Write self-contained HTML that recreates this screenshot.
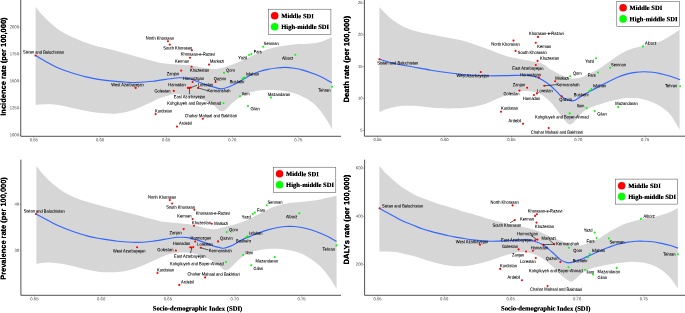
<!DOCTYPE html>
<html lang="en"><head><meta charset="utf-8"><title>SDI scatter plots</title>
<style>
html,body{margin:0;padding:0;background:#fff;}
body{width:685px;height:313px;overflow:hidden;}
svg{display:block;}
text{text-rendering:geometricPrecision;}
.lab{font-family:"Liberation Sans",Arial,sans-serif;font-size:4.6px;fill:#000;stroke:#000;stroke-width:0.0;}
.tick{font-family:"Liberation Sans",Arial,sans-serif;font-size:4.2px;fill:#606060;stroke:#606060;stroke-width:0.0;}
.ytitle{font-family:"Liberation Sans",Arial,sans-serif;font-weight:bold;font-size:7.5px;fill:#000;stroke:#000;stroke-width:0.12;}
.xtitle{font-family:"Liberation Serif","Times New Roman",serif;font-weight:bold;font-size:6.63px;fill:#000;stroke:#000;stroke-width:0.08;}
.leg{font-family:"Liberation Serif","Times New Roman",serif;font-weight:bold;font-size:6.57px;fill:#000;stroke:#000;stroke-width:0.08;}
</style></head><body>
<svg width="685" height="313" viewBox="0 0 685 313">
<defs><filter id="tb" x="-5%" y="-5%" width="110%" height="110%" color-interpolation-filters="sRGB"><feGaussianBlur stdDeviation="0.2"/><feComponentTransfer><feFuncA type="linear" slope="1.25" intercept="0"/></feComponentTransfer></filter></defs>
<defs><filter id="ab" x="-5%" y="-5%" width="110%" height="110%"><feGaussianBlur stdDeviation="0.2"/></filter></defs>
<defs><filter id="b" x="-5%" y="-5%" width="110%" height="110%"><feGaussianBlur stdDeviation="0.4"/></filter></defs>
<rect x="0" y="0" width="685" height="313" fill="#fff"/>
<g filter="url(#b)">
<g transform="translate(0 0)">
<path d="M35.60 7.00 C36.17 7.70 37.83 9.83 39.00 11.20 C40.17 12.57 40.97 13.47 42.60 15.20 C44.23 16.93 46.72 19.63 48.80 21.60 C50.88 23.57 53.00 25.35 55.10 27.00 C57.20 28.65 59.30 30.17 61.40 31.50 C63.50 32.83 65.62 33.95 67.70 35.00 C69.78 36.05 71.42 36.70 73.90 37.80 C76.38 38.90 79.07 40.28 82.60 41.60 C86.13 42.92 90.92 44.50 95.10 45.70 C99.28 46.90 103.52 47.75 107.70 48.80 C111.88 49.85 116.02 50.88 120.20 52.00 C124.38 53.12 128.62 54.35 132.80 55.50 C136.98 56.65 141.77 57.95 145.30 58.90 C148.83 59.85 151.30 60.52 154.00 61.20 C156.70 61.88 158.78 62.55 161.50 63.00 C164.22 63.45 165.90 63.55 170.30 63.90 C174.70 64.25 183.50 64.65 187.90 65.10 C192.30 65.55 193.78 66.10 196.70 66.60 C199.62 67.10 202.48 67.70 205.40 68.10 C208.32 68.50 211.13 69.12 214.20 69.00 C217.27 68.88 220.73 68.13 223.80 67.40 C226.87 66.67 229.67 65.70 232.60 64.60 C235.53 63.50 238.48 62.12 241.40 60.80 C244.32 59.48 247.18 58.03 250.10 56.70 C253.02 55.37 255.97 54.03 258.90 52.80 C261.83 51.57 264.77 50.27 267.70 49.30 C270.63 48.33 273.57 47.63 276.50 47.00 C279.43 46.37 282.37 45.93 285.30 45.50 C288.23 45.07 291.17 44.63 294.10 44.40 C297.03 44.17 299.97 44.25 302.90 44.10 C305.83 43.95 308.78 43.85 311.70 43.50 C314.62 43.15 317.48 42.85 320.40 42.00 C323.32 41.15 327.28 39.23 329.20 38.40 C331.12 37.57 331.45 37.23 331.90 37.00 L331.90 129.60 C331.45 128.65 331.12 127.03 329.20 123.90 C327.28 120.77 323.32 114.45 320.40 110.80 C317.48 107.15 314.62 104.35 311.70 102.00 C308.78 99.65 305.83 98.17 302.90 96.70 C299.97 95.23 297.03 94.13 294.10 93.20 C291.17 92.27 288.23 91.60 285.30 91.10 C282.37 90.60 279.43 90.38 276.50 90.20 C273.57 90.02 270.62 89.95 267.70 90.00 C264.78 90.05 261.93 90.12 259.00 90.50 C256.07 90.88 253.03 91.35 250.10 92.30 C247.17 93.25 244.32 94.45 241.40 96.20 C238.48 97.95 235.00 100.73 232.60 102.80 C230.20 104.87 228.35 107.30 227.00 108.60 C225.65 109.90 225.28 110.15 224.50 110.60 C223.72 111.05 223.00 111.25 222.30 111.30 C221.60 111.35 221.02 111.22 220.30 110.90 C219.58 110.58 219.02 110.25 218.00 109.40 C216.98 108.55 216.30 107.25 214.20 105.80 C212.10 104.35 208.32 102.07 205.40 100.70 C202.48 99.33 199.62 98.47 196.70 97.60 C193.78 96.73 190.83 96.03 187.90 95.50 C184.97 94.97 182.03 94.50 179.10 94.40 C176.17 94.30 173.23 94.37 170.30 94.90 C167.37 95.43 164.43 96.52 161.50 97.60 C158.57 98.68 155.63 100.08 152.70 101.40 C149.77 102.72 146.83 104.18 143.90 105.50 C140.97 106.82 138.02 108.22 135.10 109.30 C132.18 110.38 129.32 111.32 126.40 112.00 C123.48 112.68 120.53 113.13 117.60 113.40 C114.67 113.67 111.68 113.67 108.80 113.60 C105.92 113.53 103.10 113.27 100.30 113.00 C97.50 112.73 94.68 112.40 92.00 112.00 C89.32 111.60 86.87 111.13 84.20 110.60 C81.53 110.07 78.67 109.40 76.00 108.80 C73.33 108.20 70.87 107.58 68.20 107.00 C65.53 106.42 62.68 105.75 60.00 105.30 C57.32 104.85 54.77 104.47 52.10 104.30 C49.43 104.13 46.75 104.18 44.00 104.30 C41.25 104.42 37.00 104.88 35.60 105.00 Z" fill="#d6d6d6"/>
<path d="M35.70 55.50 C36.50 56.00 38.77 57.45 40.50 58.50 C42.23 59.55 43.85 60.57 46.10 61.80 C48.35 63.03 51.33 64.62 54.00 65.90 C56.67 67.18 59.43 68.43 62.10 69.50 C64.77 70.57 67.32 71.42 70.00 72.30 C72.68 73.18 75.53 74.03 78.20 74.80 C80.87 75.57 83.33 76.27 86.00 76.90 C88.67 77.53 91.53 78.10 94.20 78.60 C96.87 79.10 99.32 79.52 102.00 79.90 C104.68 80.28 107.63 80.62 110.30 80.90 C112.97 81.18 115.32 81.38 118.00 81.60 C120.68 81.82 123.55 82.05 126.40 82.20 C129.25 82.35 130.72 82.65 135.10 82.50 C139.48 82.35 146.83 81.93 152.70 81.30 C158.57 80.67 165.90 79.28 170.30 78.70 C174.70 78.12 176.17 77.87 179.10 77.80 C182.03 77.73 184.97 77.72 187.90 78.30 C190.83 78.88 193.78 80.27 196.70 81.30 C199.62 82.33 202.35 83.48 205.40 84.50 C208.45 85.52 212.23 86.68 215.00 87.40 C217.77 88.12 219.07 89.17 222.00 88.80 C224.93 88.43 229.37 86.58 232.60 85.20 C235.83 83.82 238.48 82.15 241.40 80.50 C244.32 78.85 247.18 76.75 250.10 75.30 C253.02 73.85 255.97 72.78 258.90 71.80 C261.83 70.82 264.77 70.03 267.70 69.40 C270.63 68.77 273.57 68.33 276.50 68.00 C279.43 67.67 282.37 67.35 285.30 67.40 C288.23 67.45 291.17 67.85 294.10 68.30 C297.03 68.75 299.97 69.30 302.90 70.10 C305.83 70.90 308.78 72.02 311.70 73.10 C314.62 74.18 317.03 75.00 320.40 76.60 C323.77 78.20 329.98 81.68 331.90 82.70" fill="none" stroke="#3366ff" stroke-width="1.15" stroke-linecap="butt"/>
<circle cx="35.5" cy="55.5" r="1.05" fill="#ff0000"/>
<circle cx="168.0" cy="41.2" r="1.05" fill="#ff0000"/>
<circle cx="169.8" cy="44.6" r="1.05" fill="#ff0000"/>
<circle cx="191.9" cy="50.2" r="1.05" fill="#ff0000"/>
<circle cx="190.0" cy="57.8" r="1.05" fill="#ff0000"/>
<circle cx="209.0" cy="64.6" r="1.05" fill="#ff0000"/>
<circle cx="191.6" cy="66.7" r="1.05" fill="#ff0000"/>
<circle cx="181.2" cy="70.6" r="1.05" fill="#ff0000"/>
<circle cx="192.6" cy="82.0" r="1.05" fill="#ff0000"/>
<circle cx="215.5" cy="82.0" r="1.05" fill="#ff0000"/>
<circle cx="135.7" cy="87.9" r="1.05" fill="#ff0000"/>
<circle cx="187.9" cy="87.9" r="1.05" fill="#ff0000"/>
<circle cx="189.2" cy="87.9" r="1.05" fill="#ff0000"/>
<circle cx="190.8" cy="87.6" r="1.05" fill="#ff0000"/>
<circle cx="198.1" cy="87.9" r="1.05" fill="#ff0000"/>
<circle cx="173.8" cy="90.9" r="1.05" fill="#ff0000"/>
<circle cx="223.4" cy="103.3" r="1.05" fill="#00ff00"/>
<circle cx="155.7" cy="114.1" r="1.05" fill="#ff0000"/>
<circle cx="202.8" cy="118.8" r="1.05" fill="#ff0000"/>
<circle cx="177.0" cy="126.6" r="1.05" fill="#ff0000"/>
<circle cx="263.2" cy="46.7" r="1.05" fill="#00ff00"/>
<circle cx="251.4" cy="54.1" r="1.05" fill="#00ff00"/>
<circle cx="249.1" cy="55.0" r="1.05" fill="#00ff00"/>
<circle cx="295.3" cy="54.8" r="1.05" fill="#00ff00"/>
<circle cx="224.0" cy="72.7" r="1.05" fill="#00ff00"/>
<circle cx="244.2" cy="77.5" r="1.05" fill="#00ff00"/>
<circle cx="242.6" cy="78.6" r="1.05" fill="#00ff00"/>
<circle cx="332.0" cy="86.7" r="1.05" fill="#00ff00"/>
<circle cx="240.0" cy="96.2" r="1.05" fill="#00ff00"/>
<circle cx="271.0" cy="97.6" r="1.05" fill="#00ff00"/>
<circle cx="248.0" cy="106.0" r="1.05" fill="#00ff00"/>
<rect x="268.4" y="9.2" width="62.5" height="25.2" fill="#fff" stroke="#444" stroke-width="0.5"/>
<circle cx="274.7" cy="15.799999999999999" r="3.8" fill="#ff0000"/>
<circle cx="274.7" cy="26.7" r="3.8" fill="#00ff00"/>
</g>
<g transform="translate(0 0)">
<path d="M379.40 7.00 C379.83 7.48 381.10 8.93 382.00 9.90 C382.90 10.87 383.80 11.80 384.80 12.80 C385.80 13.80 386.93 14.92 388.00 15.90 C389.07 16.88 390.03 17.75 391.20 18.70 C392.37 19.65 393.67 20.67 395.00 21.60 C396.33 22.53 397.87 23.50 399.20 24.30 C400.53 25.10 401.67 25.75 403.00 26.40 C404.33 27.05 405.15 27.43 407.20 28.20 C409.25 28.97 412.62 30.20 415.30 31.00 C417.98 31.80 420.68 32.40 423.30 33.00 C425.92 33.60 428.27 34.07 431.00 34.60 C433.73 35.13 436.80 35.67 439.70 36.20 C442.60 36.73 445.48 37.25 448.40 37.80 C451.32 38.35 454.77 39.00 457.20 39.50 C459.63 40.00 460.43 40.10 463.00 40.80 C465.57 41.50 468.08 42.18 472.60 43.70 C477.12 45.22 485.72 48.28 490.10 49.90 C494.48 51.52 495.97 52.32 498.90 53.40 C501.83 54.48 504.77 55.58 507.70 56.40 C510.63 57.22 513.57 57.68 516.50 58.30 C519.43 58.92 522.37 59.53 525.30 60.10 C528.23 60.67 531.17 61.07 534.10 61.70 C537.03 62.33 539.97 62.50 542.90 63.90 C545.83 65.30 548.78 68.32 551.70 70.10 C554.62 71.88 557.48 73.30 560.40 74.60 C563.32 75.90 566.77 77.25 569.20 77.90 C571.63 78.55 572.77 78.65 575.00 78.50 C577.23 78.35 580.47 77.75 582.60 77.00 C584.73 76.25 586.33 74.75 587.80 74.00 C589.27 73.25 589.35 73.45 591.40 72.50 C593.45 71.55 597.18 70.08 600.10 68.30 C603.02 66.52 605.97 63.90 608.90 61.80 C611.83 59.70 614.77 57.53 617.70 55.70 C620.63 53.87 623.57 52.12 626.50 50.80 C629.43 49.48 632.37 48.63 635.30 47.80 C638.23 46.97 641.17 46.48 644.10 45.80 C647.03 45.12 649.97 44.55 652.90 43.70 C655.83 42.85 658.78 42.02 661.70 40.70 C664.62 39.38 667.42 37.63 670.40 35.80 C673.38 33.97 678.07 30.72 679.60 29.70 L679.60 129.50 C678.07 127.05 673.38 118.50 670.40 114.80 C667.42 111.10 664.62 109.35 661.70 107.30 C658.78 105.25 655.83 103.80 652.90 102.50 C649.97 101.20 647.03 100.23 644.10 99.50 C641.17 98.77 638.23 98.33 635.30 98.10 C632.37 97.87 629.43 97.87 626.50 98.10 C623.57 98.33 620.63 98.92 617.70 99.50 C614.77 100.08 611.83 100.80 608.90 101.60 C605.97 102.40 603.02 103.35 600.10 104.30 C597.18 105.25 594.32 105.97 591.40 107.30 C588.48 108.63 585.25 110.13 582.60 112.30 C579.95 114.47 577.23 118.42 575.50 120.30 C573.77 122.18 573.15 122.92 572.20 123.60 C571.25 124.28 570.58 124.47 569.80 124.40 C569.02 124.33 568.30 123.83 567.50 123.20 C566.70 122.57 566.18 122.00 565.00 120.60 C563.82 119.20 561.90 116.77 560.40 114.80 C558.90 112.83 557.45 110.73 556.00 108.80 C554.55 106.87 553.88 105.42 551.70 103.20 C549.52 100.98 545.83 97.37 542.90 95.50 C539.97 93.63 537.03 92.73 534.10 92.00 C531.17 91.27 528.23 91.10 525.30 91.10 C522.37 91.10 519.43 91.42 516.50 92.00 C513.57 92.58 510.63 93.58 507.70 94.60 C504.77 95.62 501.83 96.87 498.90 98.10 C495.97 99.33 493.02 100.83 490.10 102.00 C487.18 103.17 484.32 104.28 481.40 105.10 C478.48 105.92 475.67 106.43 472.60 106.90 C469.53 107.37 465.57 107.67 463.00 107.90 C460.43 108.13 459.63 108.22 457.20 108.30 C454.77 108.38 451.32 108.43 448.40 108.40 C445.48 108.37 442.62 108.27 439.70 108.10 C436.78 107.93 433.83 107.67 430.90 107.40 C427.97 107.13 425.03 106.77 422.10 106.50 C419.17 106.23 416.23 105.92 413.30 105.80 C410.37 105.68 407.43 105.65 404.50 105.80 C401.57 105.95 398.63 106.15 395.70 106.70 C392.77 107.25 389.62 108.17 386.90 109.10 C384.18 110.03 380.65 111.77 379.40 112.30 Z" fill="#d6d6d6"/>
<path d="M379.40 59.30 C382.12 60.03 390.05 62.42 395.70 63.70 C401.35 64.98 407.43 65.92 413.30 67.00 C419.17 68.08 425.05 69.23 430.90 70.20 C436.75 71.17 443.05 72.07 448.40 72.80 C453.75 73.53 458.97 74.18 463.00 74.60 C467.03 75.02 468.08 75.10 472.60 75.30 C477.12 75.50 484.25 75.75 490.10 75.80 C495.95 75.85 501.83 75.68 507.70 75.60 C513.57 75.52 520.90 75.20 525.30 75.30 C529.70 75.40 531.17 75.38 534.10 76.20 C537.03 77.02 539.97 78.45 542.90 80.20 C545.83 81.95 548.78 84.15 551.70 86.70 C554.62 89.25 558.07 93.40 560.40 95.50 C562.73 97.60 563.93 98.42 565.70 99.30 C567.47 100.18 569.37 100.68 571.00 100.80 C572.63 100.92 573.57 100.87 575.50 100.00 C577.43 99.13 579.95 97.18 582.60 95.60 C585.25 94.02 588.48 92.10 591.40 90.50 C594.32 88.90 597.18 87.52 600.10 86.00 C603.02 84.48 605.97 82.85 608.90 81.40 C611.83 79.95 614.77 78.52 617.70 77.30 C620.63 76.08 623.57 74.92 626.50 74.10 C629.43 73.28 632.37 72.78 635.30 72.40 C638.23 72.02 641.17 71.82 644.10 71.80 C647.03 71.78 649.97 71.93 652.90 72.30 C655.83 72.67 658.78 73.35 661.70 74.00 C664.62 74.65 667.33 75.25 670.40 76.20 C673.47 77.15 678.48 79.12 680.10 79.70" fill="none" stroke="#3366ff" stroke-width="1.15" stroke-linecap="butt"/>
<circle cx="379.4" cy="59.2" r="1.05" fill="#ff0000"/>
<circle cx="538.0" cy="36.9" r="1.05" fill="#ff0000"/>
<circle cx="513.5" cy="40.6" r="1.05" fill="#ff0000"/>
<circle cx="535.8" cy="42.8" r="1.05" fill="#ff0000"/>
<circle cx="515.6" cy="50.9" r="1.05" fill="#ff0000"/>
<circle cx="537.6" cy="60.9" r="1.05" fill="#ff0000"/>
<circle cx="535.8" cy="65.0" r="1.05" fill="#ff0000"/>
<circle cx="480.8" cy="72.0" r="1.05" fill="#ff0000"/>
<circle cx="538.8" cy="77.6" r="1.05" fill="#ff0000"/>
<circle cx="555.2" cy="81.2" r="1.05" fill="#ff0000"/>
<circle cx="544.3" cy="85.8" r="1.05" fill="#ff0000"/>
<circle cx="527.1" cy="87.8" r="1.05" fill="#ff0000"/>
<circle cx="519.5" cy="90.6" r="1.05" fill="#ff0000"/>
<circle cx="536.9" cy="93.4" r="1.05" fill="#ff0000"/>
<circle cx="533.9" cy="95.1" r="1.05" fill="#ff0000"/>
<circle cx="561.7" cy="96.2" r="1.05" fill="#ff0000"/>
<circle cx="501.0" cy="111.7" r="1.05" fill="#ff0000"/>
<circle cx="523.0" cy="123.8" r="1.05" fill="#ff0000"/>
<circle cx="569.7" cy="113.4" r="1.05" fill="#00ff00"/>
<circle cx="548.7" cy="128.1" r="1.05" fill="#ff0000"/>
<circle cx="642.9" cy="46.4" r="1.05" fill="#00ff00"/>
<circle cx="596.1" cy="58.3" r="1.05" fill="#00ff00"/>
<circle cx="610.2" cy="67.8" r="1.05" fill="#00ff00"/>
<circle cx="598.0" cy="72.5" r="1.05" fill="#00ff00"/>
<circle cx="570.3" cy="76.2" r="1.05" fill="#00ff00"/>
<circle cx="591.4" cy="89.0" r="1.05" fill="#00ff00"/>
<circle cx="589.6" cy="90.7" r="1.05" fill="#00ff00"/>
<circle cx="586.6" cy="108.0" r="1.05" fill="#00ff00"/>
<circle cx="594.7" cy="111.0" r="1.05" fill="#00ff00"/>
<circle cx="618.3" cy="106.9" r="1.05" fill="#00ff00"/>
<circle cx="680.1" cy="86.2" r="1.05" fill="#00ff00"/>
<rect x="616.8" y="1.4" width="62.8" height="25.2" fill="#fff" stroke="#444" stroke-width="0.5"/>
<circle cx="623.0999999999999" cy="7.699999999999999" r="3.8" fill="#ff0000"/>
<circle cx="623.0999999999999" cy="18.9" r="3.8" fill="#00ff00"/>
</g>
<g transform="translate(0 0)">
<path d="M36.40 165.90 C37.65 167.45 41.18 172.22 43.90 175.20 C46.62 178.18 49.77 181.25 52.70 183.80 C55.63 186.35 58.57 188.57 61.50 190.50 C64.43 192.43 67.37 193.95 70.30 195.40 C73.23 196.85 76.17 198.10 79.10 199.20 C82.03 200.30 84.97 201.10 87.90 202.00 C90.83 202.90 93.78 203.77 96.70 204.60 C99.62 205.43 101.92 206.07 105.40 207.00 C108.88 207.93 114.17 209.32 117.60 210.20 C121.03 211.08 123.08 211.60 126.00 212.30 C128.92 213.00 130.65 213.23 135.10 214.40 C139.55 215.57 148.30 218.13 152.70 219.30 C157.10 220.47 158.57 220.88 161.50 221.40 C164.43 221.92 165.90 221.97 170.30 222.40 C174.70 222.83 183.50 223.43 187.90 224.00 C192.30 224.57 193.78 225.12 196.70 225.80 C199.62 226.48 202.48 227.53 205.40 228.10 C208.32 228.67 211.13 229.35 214.20 229.20 C217.27 229.05 220.73 227.88 223.80 227.20 C226.87 226.52 229.67 225.92 232.60 225.10 C235.53 224.28 238.48 223.42 241.40 222.30 C244.32 221.18 247.18 219.78 250.10 218.40 C253.02 217.02 255.97 215.47 258.90 214.00 C261.83 212.53 264.77 210.92 267.70 209.60 C270.63 208.28 273.57 207.07 276.50 206.10 C279.43 205.13 282.37 204.38 285.30 203.80 C288.23 203.22 291.17 202.95 294.10 202.60 C297.03 202.25 299.97 202.00 302.90 201.70 C305.83 201.40 308.78 201.18 311.70 200.80 C314.62 200.42 317.48 199.98 320.40 199.40 C323.32 198.82 326.50 197.92 329.20 197.30 C331.90 196.68 335.37 195.97 336.60 195.70 L336.60 288.80 C335.37 286.87 331.90 280.90 329.20 277.20 C326.50 273.50 323.32 269.53 320.40 266.60 C317.48 263.67 314.62 261.65 311.70 259.60 C308.78 257.55 305.83 255.70 302.90 254.30 C299.97 252.90 297.03 252.02 294.10 251.20 C291.17 250.38 288.23 249.82 285.30 249.40 C282.37 248.98 279.43 248.75 276.50 248.70 C273.57 248.65 270.63 248.83 267.70 249.10 C264.77 249.37 261.83 249.72 258.90 250.30 C255.97 250.88 253.02 251.40 250.10 252.60 C247.18 253.80 244.32 255.30 241.40 257.50 C238.48 259.70 234.50 264.02 232.60 265.80 C230.70 267.58 230.83 267.53 230.00 268.20 C229.17 268.87 228.40 269.47 227.60 269.80 C226.80 270.13 225.97 270.30 225.20 270.20 C224.43 270.10 223.82 269.77 223.00 269.20 C222.18 268.63 221.77 268.02 220.30 266.80 C218.83 265.58 216.68 263.45 214.20 261.90 C211.72 260.35 208.32 258.77 205.40 257.50 C202.48 256.23 199.62 255.12 196.70 254.30 C193.78 253.48 190.83 252.88 187.90 252.60 C184.97 252.32 182.03 252.37 179.10 252.60 C176.17 252.83 173.23 253.27 170.30 254.00 C167.37 254.73 164.43 255.83 161.50 257.00 C158.57 258.17 155.63 259.68 152.70 261.00 C149.77 262.32 146.83 263.67 143.90 264.90 C140.97 266.13 138.02 267.43 135.10 268.40 C132.18 269.37 129.32 270.12 126.40 270.70 C123.48 271.28 121.10 271.65 117.60 271.90 C114.10 272.15 108.88 272.28 105.40 272.20 C101.92 272.12 99.62 271.80 96.70 271.40 C93.78 271.00 90.83 270.42 87.90 269.80 C84.97 269.18 82.03 268.40 79.10 267.70 C76.17 267.00 73.23 266.25 70.30 265.60 C67.37 264.95 64.43 264.28 61.50 263.80 C58.57 263.32 55.63 262.88 52.70 262.70 C49.77 262.52 46.62 262.52 43.90 262.70 C41.18 262.88 37.65 263.62 36.40 263.80 Z" fill="#d6d6d6"/>
<path d="M36.40 214.30 C37.65 214.95 41.18 216.77 43.90 218.20 C46.62 219.63 49.77 221.43 52.70 222.90 C55.63 224.37 58.57 225.73 61.50 227.00 C64.43 228.27 67.37 229.42 70.30 230.50 C73.23 231.58 76.17 232.57 79.10 233.50 C82.03 234.43 84.97 235.35 87.90 236.10 C90.83 236.85 93.78 237.45 96.70 238.00 C99.62 238.55 101.92 238.87 105.40 239.40 C108.88 239.93 112.65 240.70 117.60 241.20 C122.55 241.70 129.25 242.40 135.10 242.40 C140.95 242.40 146.83 241.90 152.70 241.20 C158.57 240.50 165.90 238.85 170.30 238.20 C174.70 237.55 176.17 237.40 179.10 237.30 C182.03 237.20 184.97 237.17 187.90 237.60 C190.83 238.03 193.78 239.02 196.70 239.90 C199.62 240.78 202.48 241.85 205.40 242.90 C208.32 243.95 211.77 245.42 214.20 246.20 C216.63 246.98 218.40 247.27 220.00 247.60 C221.60 247.93 221.70 248.60 223.80 248.20 C225.90 247.80 229.67 246.57 232.60 245.20 C235.53 243.83 238.48 241.47 241.40 240.00 C244.32 238.53 247.18 237.58 250.10 236.40 C253.02 235.22 255.97 233.98 258.90 232.90 C261.83 231.82 264.77 230.77 267.70 229.90 C270.63 229.03 273.57 228.27 276.50 227.70 C279.43 227.13 282.37 226.70 285.30 226.50 C288.23 226.30 291.17 226.30 294.10 226.50 C297.03 226.70 299.97 227.12 302.90 227.70 C305.83 228.28 308.78 229.07 311.70 230.00 C314.62 230.93 317.48 232.10 320.40 233.30 C323.32 234.50 326.50 235.83 329.20 237.20 C331.90 238.57 335.37 240.78 336.60 241.50" fill="none" stroke="#3366ff" stroke-width="1.15" stroke-linecap="butt"/>
<circle cx="36.0" cy="214.0" r="1.05" fill="#ff0000"/>
<circle cx="169.8" cy="200.1" r="1.05" fill="#ff0000"/>
<circle cx="172.1" cy="203.5" r="1.05" fill="#ff0000"/>
<circle cx="194.4" cy="209.8" r="1.05" fill="#ff0000"/>
<circle cx="192.6" cy="219.1" r="1.05" fill="#ff0000"/>
<circle cx="194.0" cy="225.8" r="1.05" fill="#ff0000"/>
<circle cx="211.8" cy="223.7" r="1.05" fill="#ff0000"/>
<circle cx="183.7" cy="229.1" r="1.05" fill="#ff0000"/>
<circle cx="195.1" cy="241.5" r="1.05" fill="#ff0000"/>
<circle cx="137.1" cy="247.3" r="1.05" fill="#ff0000"/>
<circle cx="190.3" cy="247.2" r="1.05" fill="#ff0000"/>
<circle cx="191.6" cy="247.6" r="1.05" fill="#ff0000"/>
<circle cx="193.3" cy="247.0" r="1.05" fill="#ff0000"/>
<circle cx="200.7" cy="247.7" r="1.05" fill="#ff0000"/>
<circle cx="175.9" cy="250.5" r="1.05" fill="#ff0000"/>
<circle cx="218.1" cy="241.4" r="1.05" fill="#ff0000"/>
<circle cx="226.1" cy="262.1" r="1.05" fill="#00ff00"/>
<circle cx="157.5" cy="273.0" r="1.05" fill="#ff0000"/>
<circle cx="205.1" cy="277.4" r="1.05" fill="#ff0000"/>
<circle cx="179.3" cy="284.9" r="1.05" fill="#ff0000"/>
<circle cx="266.8" cy="205.2" r="1.05" fill="#00ff00"/>
<circle cx="254.9" cy="212.6" r="1.05" fill="#00ff00"/>
<circle cx="252.8" cy="214.0" r="1.05" fill="#00ff00"/>
<circle cx="299.3" cy="213.3" r="1.05" fill="#00ff00"/>
<circle cx="226.8" cy="232.1" r="1.05" fill="#00ff00"/>
<circle cx="247.5" cy="236.3" r="1.05" fill="#00ff00"/>
<circle cx="246.0" cy="237.2" r="1.05" fill="#00ff00"/>
<circle cx="243.1" cy="255.0" r="1.05" fill="#00ff00"/>
<circle cx="274.8" cy="257.1" r="1.05" fill="#00ff00"/>
<circle cx="251.2" cy="265.2" r="1.05" fill="#00ff00"/>
<circle cx="336.5" cy="245.4" r="1.05" fill="#00ff00"/>
<rect x="273.3" y="167.2" width="62.5" height="25.2" fill="#fff" stroke="#444" stroke-width="0.5"/>
<circle cx="279.6" cy="173.79999999999998" r="3.8" fill="#ff0000"/>
<circle cx="279.6" cy="184.7" r="3.8" fill="#00ff00"/>
</g>
<g transform="translate(0 0)">
<path d="M379.40 165.90 C380.65 167.30 384.18 171.58 386.90 174.30 C389.62 177.02 392.77 179.80 395.70 182.20 C398.63 184.60 401.57 186.73 404.50 188.70 C407.43 190.67 410.37 192.43 413.30 194.00 C416.23 195.57 419.17 196.90 422.10 198.10 C425.03 199.30 427.97 200.18 430.90 201.20 C433.83 202.22 436.78 203.27 439.70 204.20 C442.62 205.13 445.48 205.92 448.40 206.80 C451.32 207.68 454.77 208.72 457.20 209.50 C459.63 210.28 460.43 210.75 463.00 211.50 C465.57 212.25 468.08 212.70 472.60 214.00 C477.12 215.30 484.25 217.63 490.10 219.30 C495.95 220.97 503.30 222.92 507.70 224.00 C512.10 225.08 513.57 225.22 516.50 225.80 C519.43 226.38 522.37 226.83 525.30 227.50 C528.23 228.17 531.17 228.83 534.10 229.80 C537.03 230.77 539.97 231.98 542.90 233.30 C545.83 234.62 549.52 236.75 551.70 237.70 C553.88 238.65 554.55 238.53 556.00 239.00 C557.45 239.47 558.90 239.92 560.40 240.50 C561.90 241.08 563.53 241.88 565.00 242.50 C566.47 243.12 567.53 243.70 569.20 244.20 C570.87 244.70 573.20 245.28 575.00 245.50 C576.80 245.72 578.33 245.72 580.00 245.50 C581.67 245.28 583.33 244.78 585.00 244.20 C586.67 243.62 588.07 242.78 590.00 242.00 C591.93 241.22 594.92 240.22 596.60 239.50 C598.28 238.78 598.05 238.93 600.10 237.70 C602.15 236.47 605.97 233.85 608.90 232.10 C611.83 230.35 614.77 228.67 617.70 227.20 C620.63 225.73 623.57 224.38 626.50 223.30 C629.43 222.22 632.37 221.47 635.30 220.70 C638.23 219.93 641.17 219.28 644.10 218.70 C647.03 218.12 649.97 217.83 652.90 217.20 C655.83 216.57 658.78 215.78 661.70 214.90 C664.62 214.02 667.72 213.05 670.40 211.90 C673.08 210.75 676.57 208.65 677.80 208.00 L677.80 288.60 C676.57 286.85 673.08 281.18 670.40 278.10 C667.72 275.02 664.62 272.25 661.70 270.10 C658.78 267.95 655.83 266.42 652.90 265.20 C649.97 263.98 647.03 263.35 644.10 262.80 C641.17 262.25 638.23 262.00 635.30 261.90 C632.37 261.80 629.43 262.00 626.50 262.20 C623.57 262.40 620.63 262.72 617.70 263.10 C614.77 263.48 611.83 263.97 608.90 264.50 C605.97 265.03 603.02 265.65 600.10 266.30 C597.18 266.95 594.32 267.32 591.40 268.40 C588.48 269.48 585.53 270.78 582.60 272.80 C579.67 274.82 576.03 279.13 573.80 280.50 C571.57 281.87 571.43 282.00 569.20 281.00 C566.97 280.00 563.32 277.03 560.40 274.50 C557.48 271.97 554.62 268.43 551.70 265.80 C548.78 263.17 545.83 260.62 542.90 258.70 C539.97 256.78 537.03 255.32 534.10 254.30 C531.17 253.28 528.23 252.88 525.30 252.60 C522.37 252.32 519.43 252.25 516.50 252.60 C513.57 252.95 510.63 253.88 507.70 254.70 C504.77 255.52 501.83 256.53 498.90 257.50 C495.97 258.47 493.02 259.57 490.10 260.50 C487.18 261.43 484.32 262.37 481.40 263.10 C478.48 263.83 475.53 264.40 472.60 264.90 C469.67 265.40 466.37 265.88 463.80 266.10 C461.23 266.32 459.77 266.32 457.20 266.20 C454.63 266.08 451.32 265.80 448.40 265.40 C445.48 265.00 442.62 264.45 439.70 263.80 C436.78 263.15 433.83 262.35 430.90 261.50 C427.97 260.65 425.03 259.62 422.10 258.70 C419.17 257.78 416.23 256.80 413.30 256.00 C410.37 255.20 407.43 254.55 404.50 253.90 C401.57 253.25 398.63 252.48 395.70 252.10 C392.77 251.72 389.62 251.68 386.90 251.60 C384.18 251.52 380.65 251.60 379.40 251.60 Z" fill="#d6d6d6"/>
<path d="M379.60 208.40 C380.82 209.10 384.22 211.12 386.90 212.60 C389.58 214.08 392.77 215.78 395.70 217.30 C398.63 218.82 401.57 220.38 404.50 221.70 C407.43 223.02 410.37 224.03 413.30 225.20 C416.23 226.37 419.17 227.67 422.10 228.70 C425.03 229.73 427.97 230.58 430.90 231.40 C433.83 232.22 436.78 232.87 439.70 233.60 C442.62 234.33 445.48 235.17 448.40 235.80 C451.32 236.43 454.77 236.98 457.20 237.40 C459.63 237.82 460.43 237.88 463.00 238.30 C465.57 238.72 468.08 239.42 472.60 239.90 C477.12 240.38 484.25 241.05 490.10 241.20 C495.95 241.35 501.83 241.02 507.70 240.80 C513.57 240.58 520.90 239.83 525.30 239.90 C529.70 239.97 531.17 240.40 534.10 241.20 C537.03 242.00 539.97 242.95 542.90 244.70 C545.83 246.45 548.78 249.22 551.70 251.70 C554.62 254.18 558.18 257.88 560.40 259.60 C562.62 261.32 563.50 261.47 565.00 262.00 C566.50 262.53 567.93 262.85 569.40 262.80 C570.87 262.75 571.60 262.38 573.80 261.70 C576.00 261.02 579.67 259.87 582.60 258.70 C585.53 257.53 588.48 256.02 591.40 254.70 C594.32 253.38 597.18 252.03 600.10 250.80 C603.02 249.57 605.97 248.38 608.90 247.30 C611.83 246.22 614.77 245.12 617.70 244.30 C620.63 243.48 623.57 242.90 626.50 242.40 C629.43 241.90 632.37 241.50 635.30 241.30 C638.23 241.10 641.17 241.13 644.10 241.20 C647.03 241.27 649.97 241.33 652.90 241.70 C655.83 242.07 658.78 242.77 661.70 243.40 C664.62 244.03 667.68 244.70 670.40 245.50 C673.12 246.30 676.73 247.75 678.00 248.20" fill="none" stroke="#3366ff" stroke-width="1.15" stroke-linecap="butt"/>
<circle cx="379.6" cy="208.3" r="1.05" fill="#ff0000"/>
<circle cx="512.6" cy="205.4" r="1.05" fill="#ff0000"/>
<circle cx="536.9" cy="214.2" r="1.05" fill="#ff0000"/>
<circle cx="535.1" cy="215.9" r="1.05" fill="#ff0000"/>
<circle cx="514.8" cy="220.1" r="1.05" fill="#ff0000"/>
<circle cx="536.5" cy="222.6" r="1.05" fill="#ff0000"/>
<circle cx="537.4" cy="239.6" r="1.05" fill="#ff0000"/>
<circle cx="535.2" cy="240.3" r="1.05" fill="#ff0000"/>
<circle cx="554.3" cy="244.1" r="1.05" fill="#ff0000"/>
<circle cx="543.2" cy="244.7" r="1.05" fill="#ff0000"/>
<circle cx="480.0" cy="244.8" r="1.05" fill="#ff0000"/>
<circle cx="518.6" cy="249.4" r="1.05" fill="#ff0000"/>
<circle cx="532.9" cy="250.8" r="1.05" fill="#ff0000"/>
<circle cx="526.0" cy="251.5" r="1.05" fill="#ff0000"/>
<circle cx="535.8" cy="258.0" r="1.05" fill="#ff0000"/>
<circle cx="560.4" cy="261.9" r="1.05" fill="#ff0000"/>
<circle cx="500.2" cy="268.9" r="1.05" fill="#ff0000"/>
<circle cx="568.5" cy="267.2" r="1.05" fill="#00ff00"/>
<circle cx="522.0" cy="280.3" r="1.05" fill="#ff0000"/>
<circle cx="547.6" cy="286.0" r="1.05" fill="#ff0000"/>
<circle cx="640.9" cy="218.9" r="1.05" fill="#00ff00"/>
<circle cx="594.7" cy="232.6" r="1.05" fill="#00ff00"/>
<circle cx="596.6" cy="238.1" r="1.05" fill="#00ff00"/>
<circle cx="608.8" cy="238.4" r="1.05" fill="#00ff00"/>
<circle cx="568.9" cy="247.7" r="1.05" fill="#00ff00"/>
<circle cx="589.8" cy="253.8" r="1.05" fill="#00ff00"/>
<circle cx="588.0" cy="257.3" r="1.05" fill="#00ff00"/>
<circle cx="585.2" cy="269.8" r="1.05" fill="#00ff00"/>
<circle cx="593.1" cy="274.4" r="1.05" fill="#00ff00"/>
<circle cx="616.7" cy="267.9" r="1.05" fill="#00ff00"/>
<circle cx="678.0" cy="254.3" r="1.05" fill="#00ff00"/>
<rect x="615.4" y="179.1" width="62.3" height="25.0" fill="#fff" stroke="#444" stroke-width="0.5"/>
<circle cx="621.6999999999999" cy="185.7" r="3.8" fill="#ff0000"/>
<circle cx="621.6999999999999" cy="196.6" r="3.8" fill="#00ff00"/>
</g>
</g>
<g filter="url(#ab)">
<path d="M20.75 0 V136.3 H341" fill="none" stroke="#333" stroke-width="0.85"/>
<path d="M19.55 27.2 h1.2" stroke="#333" stroke-width="0.4"/>
<path d="M19.55 54.2 h1.2" stroke="#333" stroke-width="0.4"/>
<path d="M19.55 81.2 h1.2" stroke="#333" stroke-width="0.4"/>
<path d="M19.55 108.2 h1.2" stroke="#333" stroke-width="0.4"/>
<path d="M19.55 135.2 h1.2" stroke="#333" stroke-width="0.4"/>
<path d="M33.8 136.3 v1.2" stroke="#333" stroke-width="0.4"/>
<path d="M100.0 136.3 v1.2" stroke="#333" stroke-width="0.4"/>
<path d="M166.2 136.3 v1.2" stroke="#333" stroke-width="0.4"/>
<path d="M232.3 136.3 v1.2" stroke="#333" stroke-width="0.4"/>
<path d="M298.3 136.3 v1.2" stroke="#333" stroke-width="0.4"/>
<path d="M189.45 88.4 L189.45 94.2" stroke="#000" stroke-width="0.6" fill="none"/>
<path d="M191.4 87.4 L197.0 85.3" stroke="#000" stroke-width="0.6" fill="none"/>
<path d="M198.5 88.0 L208 90.8" stroke="#000" stroke-width="0.6" fill="none"/>
<path d="M364.4 0 V136.2 H685" fill="none" stroke="#333" stroke-width="0.85"/>
<path d="M363.2 3.0 h1.2" stroke="#333" stroke-width="0.4"/>
<path d="M363.2 34.8 h1.2" stroke="#333" stroke-width="0.4"/>
<path d="M363.2 66.7 h1.2" stroke="#333" stroke-width="0.4"/>
<path d="M363.2 98.5 h1.2" stroke="#333" stroke-width="0.4"/>
<path d="M363.2 130.4 h1.2" stroke="#333" stroke-width="0.4"/>
<path d="M377.6 136.2 v1.2" stroke="#333" stroke-width="0.4"/>
<path d="M444.5 136.2 v1.2" stroke="#333" stroke-width="0.4"/>
<path d="M511.4 136.2 v1.2" stroke="#333" stroke-width="0.4"/>
<path d="M578.3 136.2 v1.2" stroke="#333" stroke-width="0.4"/>
<path d="M645.2 136.2 v1.2" stroke="#333" stroke-width="0.4"/>
<path d="M544.8 85.8 L556.5 84.6" stroke="#000" stroke-width="0.6" fill="none"/>
<path d="M20.9 159.7 V295.3 H341" fill="none" stroke="#333" stroke-width="0.85"/>
<path d="M19.7 204.4 h1.2" stroke="#333" stroke-width="0.4"/>
<path d="M19.7 250.7 h1.2" stroke="#333" stroke-width="0.4"/>
<path d="M34.4 295.3 v1.2" stroke="#333" stroke-width="0.4"/>
<path d="M101.2 295.3 v1.2" stroke="#333" stroke-width="0.4"/>
<path d="M167.9 295.3 v1.2" stroke="#333" stroke-width="0.4"/>
<path d="M234.7 295.3 v1.2" stroke="#333" stroke-width="0.4"/>
<path d="M301.5 295.3 v1.2" stroke="#333" stroke-width="0.4"/>
<path d="M191.7 248.2 L190.5 253.2" stroke="#000" stroke-width="0.6" fill="none"/>
<path d="M201.0 247.8 L208.5 250.0" stroke="#000" stroke-width="0.6" fill="none"/>
<path d="M364.6 159.7 V295.3 H685" fill="none" stroke="#333" stroke-width="0.85"/>
<path d="M363.40000000000003 168.2 h1.2" stroke="#333" stroke-width="0.4"/>
<path d="M363.40000000000003 216.4 h1.2" stroke="#333" stroke-width="0.4"/>
<path d="M363.40000000000003 264.5 h1.2" stroke="#333" stroke-width="0.4"/>
<path d="M377.6 295.3 v1.2" stroke="#333" stroke-width="0.4"/>
<path d="M444.2 295.3 v1.2" stroke="#333" stroke-width="0.4"/>
<path d="M510.7 295.3 v1.2" stroke="#333" stroke-width="0.4"/>
<path d="M577.2 295.3 v1.2" stroke="#333" stroke-width="0.4"/>
<path d="M643.8 295.3 v1.2" stroke="#333" stroke-width="0.4"/>
<path d="M514.2 220.4 L510.0 222.8" stroke="#000" stroke-width="0.6" fill="none"/>
<path d="M531.0 235.4 L536.6 239.4" stroke="#000" stroke-width="0.6" fill="none"/>
<path d="M543.0 244.6 L554.0 244.4" stroke="#000" stroke-width="0.6" fill="none"/>
<path d="M549.2 239.8 L553.8 243.8" stroke="#000" stroke-width="0.6" fill="none"/>
</g>
<g filter="url(#tb)">
<text class="tick" transform="translate(19.0 28.25) matrix(1 0.002 0.002 1 0 0)" text-anchor="end">2000</text>
<text class="tick" transform="translate(19.0 55.25) matrix(1 0.002 0.002 1 0 0)" text-anchor="end">1750</text>
<text class="tick" transform="translate(19.0 82.25) matrix(1 0.002 0.002 1 0 0)" text-anchor="end">1500</text>
<text class="tick" transform="translate(19.0 109.25) matrix(1 0.002 0.002 1 0 0)" text-anchor="end">1250</text>
<text class="tick" transform="translate(19.0 136.25) matrix(1 0.002 0.002 1 0 0)" text-anchor="end">1000</text>
<text class="tick" transform="translate(33.8 141.2) matrix(1 0.002 0.002 1 0 0)" text-anchor="middle">0.55</text>
<text class="tick" transform="translate(100.0 141.2) matrix(1 0.002 0.002 1 0 0)" text-anchor="middle">0.60</text>
<text class="tick" transform="translate(166.2 141.2) matrix(1 0.002 0.002 1 0 0)" text-anchor="middle">0.65</text>
<text class="tick" transform="translate(232.3 141.2) matrix(1 0.002 0.002 1 0 0)" text-anchor="middle">0.70</text>
<text class="tick" transform="translate(298.3 141.2) matrix(1 0.002 0.002 1 0 0)" text-anchor="middle">0.75</text>
<text class="lab" transform="translate(43.5 53.65) matrix(0.878 0.002 0.002 1 0 0)" text-anchor="middle">Sistan and Baluchistan</text>
<text class="lab" transform="translate(159.9 39.65) matrix(0.878 0.002 0.002 1 0 0)" text-anchor="middle">North Khorasan</text>
<text class="lab" transform="translate(177.8 49.45) matrix(0.878 0.002 0.002 1 0 0)" text-anchor="middle">South Khorasan</text>
<text class="lab" transform="translate(198.0 55.65) matrix(0.878 0.002 0.002 1 0 0)" text-anchor="middle">Khorasan-e-Razavi</text>
<text class="lab" transform="translate(182.1 62.85) matrix(0.878 0.002 0.002 1 0 0)" text-anchor="middle">Kerman</text>
<text class="lab" transform="translate(217.0 62.85) matrix(0.878 0.002 0.002 1 0 0)" text-anchor="middle">Markazi</text>
<text class="lab" transform="translate(199.6 71.65) matrix(0.878 0.002 0.002 1 0 0)" text-anchor="middle">Khuzestan</text>
<text class="lab" transform="translate(172.9 75.15) matrix(0.878 0.002 0.002 1 0 0)" text-anchor="middle">Zanjan</text>
<text class="lab" transform="translate(193.5 80.05) matrix(0.878 0.002 0.002 1 0 0)" text-anchor="middle">Hormozgan</text>
<text class="lab" transform="translate(220.0 80.25) matrix(0.878 0.002 0.002 1 0 0)" text-anchor="middle">Qazvin</text>
<text class="lab" transform="translate(127.5 86.25) matrix(0.878 0.002 0.002 1 0 0)" text-anchor="middle">West Azarbayejan</text>
<text class="lab" transform="translate(177.1 86.25) matrix(0.878 0.002 0.002 1 0 0)" text-anchor="middle">Hamadan</text>
<text class="lab" transform="translate(189.4 98.25) matrix(0.878 0.002 0.002 1 0 0)" text-anchor="middle">East Azarbayejan</text>
<text class="lab" transform="translate(205.5 86.15) matrix(0.878 0.002 0.002 1 0 0)" text-anchor="middle">Lorestan</text>
<text class="lab" transform="translate(219.0 92.15) matrix(0.878 0.002 0.002 1 0 0)" text-anchor="middle">Kermanshah</text>
<text class="lab" transform="translate(162.5 92.45) matrix(0.878 0.002 0.002 1 0 0)" text-anchor="middle">Golestan</text>
<text class="lab" transform="translate(194.1 104.75) matrix(0.878 0.002 0.002 1 0 0)" text-anchor="middle">Kohgiluyeh and Boyer-Ahmad</text>
<text class="lab" transform="translate(163.5 112.45) matrix(0.878 0.002 0.002 1 0 0)" text-anchor="middle">Kurdistan</text>
<text class="lab" transform="translate(210.8 117.25) matrix(0.878 0.002 0.002 1 0 0)" text-anchor="middle">Chahar Mahaal and Bakhtiari</text>
<text class="lab" transform="translate(185.4 124.75) matrix(0.878 0.002 0.002 1 0 0)" text-anchor="middle">Ardebil</text>
<text class="lab" transform="translate(271.3 44.95) matrix(0.878 0.002 0.002 1 0 0)" text-anchor="middle">Semnan</text>
<text class="lab" transform="translate(257.8 53.15) matrix(0.878 0.002 0.002 1 0 0)" text-anchor="middle">Fars</text>
<text class="lab" transform="translate(242.8 59.15) matrix(0.878 0.002 0.002 1 0 0)" text-anchor="middle">Yazd</text>
<text class="lab" transform="translate(287.6 59.65) matrix(0.878 0.002 0.002 1 0 0)" text-anchor="middle">Alborz</text>
<text class="lab" transform="translate(230.4 71.65) matrix(0.878 0.002 0.002 1 0 0)" text-anchor="middle">Qom</text>
<text class="lab" transform="translate(252.4 75.45) matrix(0.878 0.002 0.002 1 0 0)" text-anchor="middle">Isfahan</text>
<text class="lab" transform="translate(237.2 83.35) matrix(0.878 0.002 0.002 1 0 0)" text-anchor="middle">Bushehr</text>
<text class="lab" transform="translate(324.4 91.75) matrix(0.878 0.002 0.002 1 0 0)" text-anchor="middle">Tehran</text>
<text class="lab" transform="translate(245.9 95.25) matrix(0.878 0.002 0.002 1 0 0)" text-anchor="middle">Ilam</text>
<text class="lab" transform="translate(279.1 95.95) matrix(0.878 0.002 0.002 1 0 0)" text-anchor="middle">Mazandaran</text>
<text class="lab" transform="translate(255.1 110.35) matrix(0.878 0.002 0.002 1 0 0)" text-anchor="middle">Gilan</text>
<text class="ytitle" transform="translate(5.9 66.6) rotate(-90) matrix(1 0.002 0.002 1.0 0 0)" text-anchor="middle">Incidence rate (per 100,000)</text>
<text class="leg" transform="translate(281.2 18.1) matrix(1 0.002 0.002 1 0 0)">Middle SDI</text>
<text class="leg" transform="translate(281.2 29.0) matrix(1 0.002 0.002 1 0 0)">High-middle SDI</text>
<text class="tick" transform="translate(362.65 4.05) matrix(1 0.002 0.002 1 0 0)" text-anchor="end">25</text>
<text class="tick" transform="translate(362.65 35.85) matrix(1 0.002 0.002 1 0 0)" text-anchor="end">20</text>
<text class="tick" transform="translate(362.65 67.75) matrix(1 0.002 0.002 1 0 0)" text-anchor="end">15</text>
<text class="tick" transform="translate(362.65 99.55) matrix(1 0.002 0.002 1 0 0)" text-anchor="end">10</text>
<text class="tick" transform="translate(362.65 131.45) matrix(1 0.002 0.002 1 0 0)" text-anchor="end">5</text>
<text class="tick" transform="translate(377.6 141.1) matrix(1 0.002 0.002 1 0 0)" text-anchor="middle">0.55</text>
<text class="tick" transform="translate(444.5 141.1) matrix(1 0.002 0.002 1 0 0)" text-anchor="middle">0.60</text>
<text class="tick" transform="translate(511.4 141.1) matrix(1 0.002 0.002 1 0 0)" text-anchor="middle">0.65</text>
<text class="tick" transform="translate(578.3 141.1) matrix(1 0.002 0.002 1 0 0)" text-anchor="middle">0.70</text>
<text class="tick" transform="translate(645.2 141.1) matrix(1 0.002 0.002 1 0 0)" text-anchor="middle">0.75</text>
<text class="lab" transform="translate(397.8 64.55) matrix(0.878 0.002 0.002 1 0 0)" text-anchor="middle">Sistan and Baluchistan</text>
<text class="lab" transform="translate(546.3 34.95) matrix(0.878 0.002 0.002 1 0 0)" text-anchor="middle">Khorasan-e-Razavi</text>
<text class="lab" transform="translate(505.5 45.65) matrix(0.878 0.002 0.002 1 0 0)" text-anchor="middle">North Khorasan</text>
<text class="lab" transform="translate(544.3 47.95) matrix(0.878 0.002 0.002 1 0 0)" text-anchor="middle">Kerman</text>
<text class="lab" transform="translate(532.3 54.05) matrix(0.878 0.002 0.002 1 0 0)" text-anchor="middle">South Khorasan</text>
<text class="lab" transform="translate(549.6 59.85) matrix(0.878 0.002 0.002 1 0 0)" text-anchor="middle">Khuzestan</text>
<text class="lab" transform="translate(527.9 69.85) matrix(0.878 0.002 0.002 1 0 0)" text-anchor="middle">East Azarbayejan</text>
<text class="lab" transform="translate(472.8 77.15) matrix(0.878 0.002 0.002 1 0 0)" text-anchor="middle">West Azarbayejan</text>
<text class="lab" transform="translate(530.6 76.25) matrix(0.878 0.002 0.002 1 0 0)" text-anchor="middle">Hormozgan</text>
<text class="lab" transform="translate(562.2 79.85) matrix(0.878 0.002 0.002 1 0 0)" text-anchor="middle">Markazi</text>
<text class="lab" transform="translate(568.0 86.15) matrix(0.878 0.002 0.002 1 0 0)" text-anchor="middle">Kermanshah</text>
<text class="lab" transform="translate(519.0 86.15) matrix(0.878 0.002 0.002 1 0 0)" text-anchor="middle">Zanjan</text>
<text class="lab" transform="translate(511.5 95.25) matrix(0.878 0.002 0.002 1 0 0)" text-anchor="middle">Golestan</text>
<text class="lab" transform="translate(545.0 92.15) matrix(0.878 0.002 0.002 1 0 0)" text-anchor="middle">Lorestan</text>
<text class="lab" transform="translate(531.6 100.05) matrix(0.878 0.002 0.002 1 0 0)" text-anchor="middle">Hamadan</text>
<text class="lab" transform="translate(565.6 101.05) matrix(0.878 0.002 0.002 1 0 0)" text-anchor="middle">Qazvin</text>
<text class="lab" transform="translate(509.5 109.85) matrix(0.878 0.002 0.002 1 0 0)" text-anchor="middle">Kurdistan</text>
<text class="lab" transform="translate(514.9 122.15) matrix(0.878 0.002 0.002 1 0 0)" text-anchor="middle">Ardebil</text>
<text class="lab" transform="translate(561.9 118.55) matrix(0.878 0.002 0.002 1 0 0)" text-anchor="middle">Kohgiluyeh and Boyer-Ahmad</text>
<text class="lab" transform="translate(556.9 133.75) matrix(0.878 0.002 0.002 1 0 0)" text-anchor="middle">Chahar Mahaal and Bakhtiari</text>
<text class="lab" transform="translate(650.7 44.75) matrix(0.878 0.002 0.002 1 0 0)" text-anchor="middle">Alborz</text>
<text class="lab" transform="translate(589.6 62.85) matrix(0.878 0.002 0.002 1 0 0)" text-anchor="middle">Yazd</text>
<text class="lab" transform="translate(618.5 66.15) matrix(0.878 0.002 0.002 1 0 0)" text-anchor="middle">Semnan</text>
<text class="lab" transform="translate(591.8 76.85) matrix(0.878 0.002 0.002 1 0 0)" text-anchor="middle">Fars</text>
<text class="lab" transform="translate(577.3 74.75) matrix(0.878 0.002 0.002 1 0 0)" text-anchor="middle">Qom</text>
<text class="lab" transform="translate(599.5 87.35) matrix(0.878 0.002 0.002 1 0 0)" text-anchor="middle">Isfahan</text>
<text class="lab" transform="translate(581.3 96.15) matrix(0.878 0.002 0.002 1 0 0)" text-anchor="middle">Bushehr</text>
<text class="lab" transform="translate(580.5 107.25) matrix(0.878 0.002 0.002 1 0 0)" text-anchor="middle">Ilam</text>
<text class="lab" transform="translate(602.0 115.45) matrix(0.878 0.002 0.002 1 0 0)" text-anchor="middle">Gilan</text>
<text class="lab" transform="translate(626.5 104.95) matrix(0.878 0.002 0.002 1 0 0)" text-anchor="middle">Mazandaran</text>
<text class="lab" transform="translate(671.1 87.35) matrix(0.878 0.002 0.002 1 0 0)" text-anchor="middle">Tehran</text>
<text class="ytitle" style="font-size:7.68px" transform="translate(349.1 59.2) rotate(-90) matrix(1 0.002 0.002 1.0 0 0)" text-anchor="middle">Death rate (per 100,000)</text>
<text class="leg" transform="translate(629.6 10.0) matrix(1 0.002 0.002 1 0 0)">Middle SDI</text>
<text class="leg" transform="translate(629.6 21.2) matrix(1 0.002 0.002 1 0 0)">High-middle SDI</text>
<text class="tick" transform="translate(19.15 205.45) matrix(1 0.002 0.002 1 0 0)" text-anchor="end">40</text>
<text class="tick" transform="translate(19.15 251.75) matrix(1 0.002 0.002 1 0 0)" text-anchor="end">30</text>
<text class="tick" transform="translate(34.4 300.2) matrix(1 0.002 0.002 1 0 0)" text-anchor="middle">0.55</text>
<text class="tick" transform="translate(101.2 300.2) matrix(1 0.002 0.002 1 0 0)" text-anchor="middle">0.60</text>
<text class="tick" transform="translate(167.9 300.2) matrix(1 0.002 0.002 1 0 0)" text-anchor="middle">0.65</text>
<text class="tick" transform="translate(234.7 300.2) matrix(1 0.002 0.002 1 0 0)" text-anchor="middle">0.70</text>
<text class="tick" transform="translate(301.5 300.2) matrix(1 0.002 0.002 1 0 0)" text-anchor="middle">0.75</text>
<text class="lab" transform="translate(44.2 212.65) matrix(0.878 0.002 0.002 1 0 0)" text-anchor="middle">Sistan and Baluchistan</text>
<text class="lab" transform="translate(162.1 198.65) matrix(0.878 0.002 0.002 1 0 0)" text-anchor="middle">North Khorasan</text>
<text class="lab" transform="translate(180.6 208.65) matrix(0.878 0.002 0.002 1 0 0)" text-anchor="middle">South Khorasan</text>
<text class="lab" transform="translate(213.0 214.75) matrix(0.878 0.002 0.002 1 0 0)" text-anchor="middle">Khorasan-e-Razavi</text>
<text class="lab" transform="translate(184.4 217.45) matrix(0.878 0.002 0.002 1 0 0)" text-anchor="middle">Kerman</text>
<text class="lab" transform="translate(201.5 224.25) matrix(0.878 0.002 0.002 1 0 0)" text-anchor="middle">Khuzestan</text>
<text class="lab" transform="translate(221.2 224.95) matrix(0.878 0.002 0.002 1 0 0)" text-anchor="middle">Markazi</text>
<text class="lab" transform="translate(175.6 234.15) matrix(0.878 0.002 0.002 1 0 0)" text-anchor="middle">Zanjan</text>
<text class="lab" transform="translate(200.9 239.55) matrix(0.878 0.002 0.002 1 0 0)" text-anchor="middle">Hormozgan</text>
<text class="lab" transform="translate(129.3 252.45) matrix(0.878 0.002 0.002 1 0 0)" text-anchor="middle">West Azarbayejan</text>
<text class="lab" transform="translate(181.5 245.05) matrix(0.878 0.002 0.002 1 0 0)" text-anchor="middle">Hamadan</text>
<text class="lab" transform="translate(189.8 257.75) matrix(0.878 0.002 0.002 1 0 0)" text-anchor="middle">East Azarbayejan</text>
<text class="lab" transform="translate(205.0 245.75) matrix(0.878 0.002 0.002 1 0 0)" text-anchor="middle">Lorestan</text>
<text class="lab" transform="translate(220.3 252.15) matrix(0.878 0.002 0.002 1 0 0)" text-anchor="middle">Kermanshah</text>
<text class="lab" transform="translate(165.4 251.25) matrix(0.878 0.002 0.002 1 0 0)" text-anchor="middle">Golestan</text>
<text class="lab" transform="translate(226.4 239.85) matrix(0.878 0.002 0.002 1 0 0)" text-anchor="middle">Qazvin</text>
<text class="lab" transform="translate(196.9 265.25) matrix(0.878 0.002 0.002 1 0 0)" text-anchor="middle">Kohgiluyeh and Boyer-Ahmad</text>
<text class="lab" transform="translate(165.5 271.45) matrix(0.878 0.002 0.002 1 0 0)" text-anchor="middle">Kurdistan</text>
<text class="lab" transform="translate(213.5 275.65) matrix(0.878 0.002 0.002 1 0 0)" text-anchor="middle">Chahar Mahaal and Bakhtiari</text>
<text class="lab" transform="translate(187.4 283.55) matrix(0.878 0.002 0.002 1 0 0)" text-anchor="middle">Ardebil</text>
<text class="lab" transform="translate(275.0 203.65) matrix(0.878 0.002 0.002 1 0 0)" text-anchor="middle">Semnan</text>
<text class="lab" transform="translate(261.1 211.75) matrix(0.878 0.002 0.002 1 0 0)" text-anchor="middle">Fars</text>
<text class="lab" transform="translate(246.2 218.45) matrix(0.878 0.002 0.002 1 0 0)" text-anchor="middle">Yazd</text>
<text class="lab" transform="translate(291.6 218.25) matrix(0.878 0.002 0.002 1 0 0)" text-anchor="middle">Alborz</text>
<text class="lab" transform="translate(233.4 231.25) matrix(0.878 0.002 0.002 1 0 0)" text-anchor="middle">Qom</text>
<text class="lab" transform="translate(255.9 234.65) matrix(0.878 0.002 0.002 1 0 0)" text-anchor="middle">Isfahan</text>
<text class="lab" transform="translate(243.6 242.45) matrix(0.878 0.002 0.002 1 0 0)" text-anchor="middle">Bushehr</text>
<text class="lab" transform="translate(249.4 254.25) matrix(0.878 0.002 0.002 1 0 0)" text-anchor="middle">Ilam</text>
<text class="lab" transform="translate(266.8 262.45) matrix(0.878 0.002 0.002 1 0 0)" text-anchor="middle">Mazandaran</text>
<text class="lab" transform="translate(258.3 270.05) matrix(0.878 0.002 0.002 1 0 0)" text-anchor="middle">Gilan</text>
<text class="lab" transform="translate(328.7 250.85) matrix(0.878 0.002 0.002 1 0 0)" text-anchor="middle">Tehran</text>
<text class="ytitle" style="font-size:7.45px" transform="translate(5.8 228.5) rotate(-90) matrix(1 0.002 0.002 1.0 0 0)" text-anchor="middle">Prevalence rate (per 100,000)</text>
<text class="xtitle" transform="translate(197.5 310.6) matrix(1 0.002 0.002 1 0 0)" text-anchor="middle">Socio-demographic Index (SDI)</text>
<text class="leg" transform="translate(286.1 176.1) matrix(1 0.002 0.002 1 0 0)">Middle SDI</text>
<text class="leg" transform="translate(286.1 187.0) matrix(1 0.002 0.002 1 0 0)">High-middle SDI</text>
<text class="tick" transform="translate(362.85 169.25) matrix(1 0.002 0.002 1 0 0)" text-anchor="end">600</text>
<text class="tick" transform="translate(362.85 217.45) matrix(1 0.002 0.002 1 0 0)" text-anchor="end">400</text>
<text class="tick" transform="translate(362.85 265.55) matrix(1 0.002 0.002 1 0 0)" text-anchor="end">200</text>
<text class="tick" transform="translate(377.6 300.2) matrix(1 0.002 0.002 1 0 0)" text-anchor="middle">0.55</text>
<text class="tick" transform="translate(444.2 300.2) matrix(1 0.002 0.002 1 0 0)" text-anchor="middle">0.60</text>
<text class="tick" transform="translate(510.7 300.2) matrix(1 0.002 0.002 1 0 0)" text-anchor="middle">0.65</text>
<text class="tick" transform="translate(577.2 300.2) matrix(1 0.002 0.002 1 0 0)" text-anchor="middle">0.70</text>
<text class="tick" transform="translate(643.8 300.2) matrix(1 0.002 0.002 1 0 0)" text-anchor="middle">0.75</text>
<text class="lab" transform="translate(402.5 207.55) matrix(0.878 0.002 0.002 1 0 0)" text-anchor="middle">Sistan and Baluchistan</text>
<text class="lab" transform="translate(504.7 203.75) matrix(0.878 0.002 0.002 1 0 0)" text-anchor="middle">North Khorasan</text>
<text class="lab" transform="translate(545.1 212.55) matrix(0.878 0.002 0.002 1 0 0)" text-anchor="middle">Khorasan-e-Razavi</text>
<text class="lab" transform="translate(527.0 220.45) matrix(0.878 0.002 0.002 1 0 0)" text-anchor="middle">Kerman</text>
<text class="lab" transform="translate(506.9 226.75) matrix(0.878 0.002 0.002 1 0 0)" text-anchor="middle">South Khorasan</text>
<text class="lab" transform="translate(544.5 228.05) matrix(0.878 0.002 0.002 1 0 0)" text-anchor="middle">Khuzestan</text>
<text class="lab" transform="translate(527.5 235.25) matrix(0.878 0.002 0.002 1 0 0)" text-anchor="middle">Hormozgan</text>
<text class="lab" transform="translate(516.7 241.45) matrix(0.878 0.002 0.002 1 0 0)" text-anchor="middle">East Azarbayejan</text>
<text class="lab" transform="translate(548.6 239.65) matrix(0.878 0.002 0.002 1 0 0)" text-anchor="middle">Markazi</text>
<text class="lab" transform="translate(567.8 245.35) matrix(0.878 0.002 0.002 1 0 0)" text-anchor="middle">Kermanshah</text>
<text class="lab" transform="translate(472.0 243.25) matrix(0.878 0.002 0.002 1 0 0)" text-anchor="middle">West Azarbayejan</text>
<text class="lab" transform="translate(510.0 247.95) matrix(0.878 0.002 0.002 1 0 0)" text-anchor="middle">Golestan</text>
<text class="lab" transform="translate(539.4 249.35) matrix(0.878 0.002 0.002 1 0 0)" text-anchor="middle">Hamadan</text>
<text class="lab" transform="translate(518.1 256.45) matrix(0.878 0.002 0.002 1 0 0)" text-anchor="middle">Zanjan</text>
<text class="lab" transform="translate(527.9 262.95) matrix(0.878 0.002 0.002 1 0 0)" text-anchor="middle">Lorestan</text>
<text class="lab" transform="translate(552.1 259.95) matrix(0.878 0.002 0.002 1 0 0)" text-anchor="middle">Qazvin</text>
<text class="lab" transform="translate(508.5 267.35) matrix(0.878 0.002 0.002 1 0 0)" text-anchor="middle">Kurdistan</text>
<text class="lab" transform="translate(555.9 272.25) matrix(0.878 0.002 0.002 1 0 0)" text-anchor="middle">Kohgiluyeh and Boyer-Ahmad</text>
<text class="lab" transform="translate(513.9 278.75) matrix(0.878 0.002 0.002 1 0 0)" text-anchor="middle">Ardebil</text>
<text class="lab" transform="translate(556.1 290.85) matrix(0.878 0.002 0.002 1 0 0)" text-anchor="middle">Chahar Mahaal and Bakhtiari</text>
<text class="lab" transform="translate(649.1 217.65) matrix(0.878 0.002 0.002 1 0 0)" text-anchor="middle">Alborz</text>
<text class="lab" transform="translate(588.1 231.85) matrix(0.878 0.002 0.002 1 0 0)" text-anchor="middle">Yazd</text>
<text class="lab" transform="translate(590.5 242.75) matrix(0.878 0.002 0.002 1 0 0)" text-anchor="middle">Fars</text>
<text class="lab" transform="translate(617.0 243.55) matrix(0.878 0.002 0.002 1 0 0)" text-anchor="middle">Semnan</text>
<text class="lab" transform="translate(577.7 252.05) matrix(0.878 0.002 0.002 1 0 0)" text-anchor="middle">Qom</text>
<text class="lab" transform="translate(598.3 252.05) matrix(0.878 0.002 0.002 1 0 0)" text-anchor="middle">Isfahan</text>
<text class="lab" transform="translate(580.2 262.35) matrix(0.878 0.002 0.002 1 0 0)" text-anchor="middle">Bushehr</text>
<text class="lab" transform="translate(590.3 273.45) matrix(0.878 0.002 0.002 1 0 0)" text-anchor="middle">Ilam</text>
<text class="lab" transform="translate(602.2 279.05) matrix(0.878 0.002 0.002 1 0 0)" text-anchor="middle">Gilan</text>
<text class="lab" transform="translate(608.8 273.15) matrix(0.878 0.002 0.002 1 0 0)" text-anchor="middle">Mazandaran</text>
<text class="lab" transform="translate(669.3 255.85) matrix(0.878 0.002 0.002 1 0 0)" text-anchor="middle">Tehran</text>
<text class="ytitle" style="font-size:7.68px" transform="translate(349.2 219.6) rotate(-90) matrix(1 0.002 0.002 1.0 0 0)" text-anchor="middle">DALYs rate (per 100,000)</text>
<text class="xtitle" transform="translate(545.7 310.6) matrix(1 0.002 0.002 1 0 0)" text-anchor="middle">Socio-demographic Index (SDI)</text>
<text class="leg" transform="translate(628.2 188.0) matrix(1 0.002 0.002 1 0 0)">Middle SDI</text>
<text class="leg" transform="translate(628.2 198.9) matrix(1 0.002 0.002 1 0 0)">High-middle SDI</text>
</g>
</svg>
</body></html>
